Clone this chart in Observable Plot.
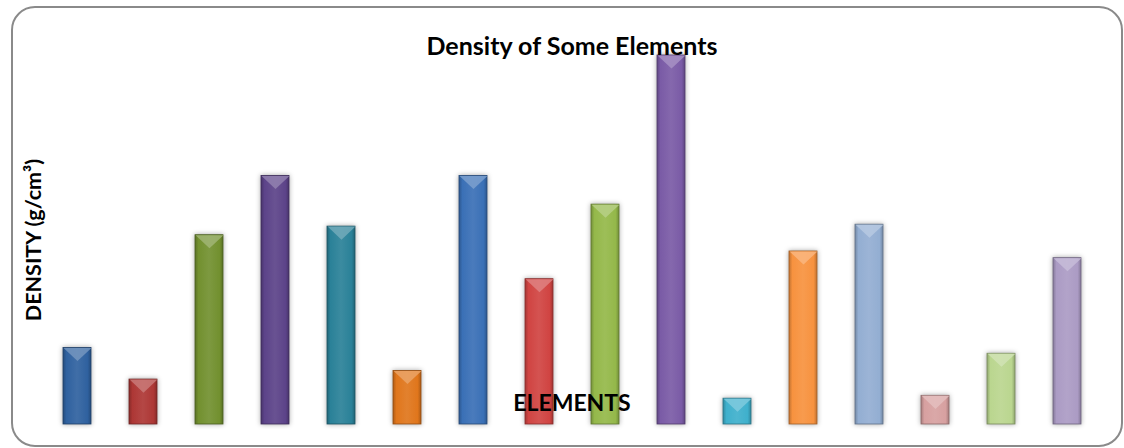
<!DOCTYPE html>
<html>
<head>
<meta charset="utf-8">
<script src="https://cdn.jsdelivr.net/npm/d3@7"></script>
<script src="https://cdn.jsdelivr.net/npm/@observablehq/plot@0.6"></script>
<style>
  html, body { margin: 0; padding: 0; background: #fff; }
  #wrap { position: relative; width: 1124px; height: 448px; overflow: hidden; }
  #frame { position: absolute; left: 11px; top: 6px; width: 1112px; height: 441px; box-sizing: border-box;
           border: 2px solid #8a8a8a; border-radius: 24px; pointer-events: none; }
  #chart svg rect { filter: drop-shadow(0px 0px 2.5px rgba(0,0,0,0.35)); }
</style>
</head>
<body>
<div id="wrap"><div id="chart"></div><div id="frame"></div></div>
<script>
// ---- data ----
const elements = ["1","2","3","4","5","6","7","8","9","10","11","12","13","14","15","16"];
const densities = [4.0, 2.35, 9.9, 13.0, 10.35, 2.8, 13.0, 7.6, 11.5, 19.3, 1.35, 9.05, 10.45, 1.5, 3.7, 8.7];
const colors = ["#2f619f","#ad3735","#72902f","#5c4389","#2a8198","#e0761c",
                "#3a70b6","#d04442","#94b84a","#7a5ba6","#3fb0cc","#f7923f",
                "#93aed2","#d7a0a0","#bad68f","#ab9bc4"];
const title = "Density of Some Elements";
const yLabel = "DENSITY (g/cm³)";
const xLabel = "ELEMENTS";

const data = elements.map((e, i) => ({element: e, density: densities[i], color: colors[i], idx: i}));

const W = 1124, H = 448, mL = 41, mR = 22, mT = 55, mB = 24, padIn = 0.58;
const bw = (W - mL - mR) / elements.length * (1 - padIn);

// downward-pointing bevel triangle at the top of each bar
const bevel = {
  draw(ctx) {
    const h = bw * 0.47;
    ctx.moveTo(-bw / 2, 0);
    ctx.lineTo(bw / 2, 0);
    ctx.lineTo(0, h);
    ctx.closePath();
  }
};

const font = "Lato, 'Open Sans', sans-serif";

const plot = Plot.plot({
  width: W, height: H,
  marginLeft: mL, marginRight: mR, marginTop: mT, marginBottom: mB,
  x: {domain: elements, axis: null, paddingInner: padIn, paddingOuter: padIn / 2},
  y: {domain: [0, 19.3], axis: null},
  color: {type: "identity"},
  marks: [
    Plot.barY(data, {x: "element", y: "density", fill: d => `url(#grad${d.idx})`,
                     stroke: d => d3.color(d.color).darker(1.2).formatHex(), strokeWidth: 0.8}),
    Plot.dot(data, {x: "element", y: "density", symbol: bevel, r: 5,
                    fill: d => d3.interpolateRgb(d.color, "#ffffff")(0.35), fillOpacity: 0.8}),
    Plot.text([title], {frameAnchor: "top", lineAnchor: "middle", dy: -9, fontSize: 25, fontWeight: "bold", fontFamily: font, fill: "#000"}),
    Plot.text([yLabel], {frameAnchor: "left", textAnchor: "middle", lineAnchor: "middle", dx: -7, rotate: -90, fontSize: 21.5, fontWeight: "bold", fontFamily: font, fill: "#000"}),
    Plot.text([xLabel], {frameAnchor: "bottom", lineAnchor: "middle", dy: -21, fontSize: 23, fontWeight: "bold", fontFamily: font, fill: "#000"})
  ]
});

// gradient definitions for the bevelled bar look
const svg = d3.select(plot);
const defs = svg.insert("defs", ":first-child");
colors.forEach((c, i) => {
  const g = defs.append("linearGradient").attr("id", "grad" + i)
    .attr("x1", "0").attr("x2", "1").attr("y1", "0").attr("y2", "0");
  const dark = d3.color(c).darker(0.7).formatHex();
  const light = d3.interpolateRgb(c, "#ffffff")(0.08);
  g.append("stop").attr("offset", "0%").attr("stop-color", dark);
  g.append("stop").attr("offset", "12%").attr("stop-color", c);
  g.append("stop").attr("offset", "50%").attr("stop-color", light);
  g.append("stop").attr("offset", "88%").attr("stop-color", c);
  g.append("stop").attr("offset", "100%").attr("stop-color", dark);
});

document.getElementById("chart").appendChild(plot);
</script>
</body>
</html>
